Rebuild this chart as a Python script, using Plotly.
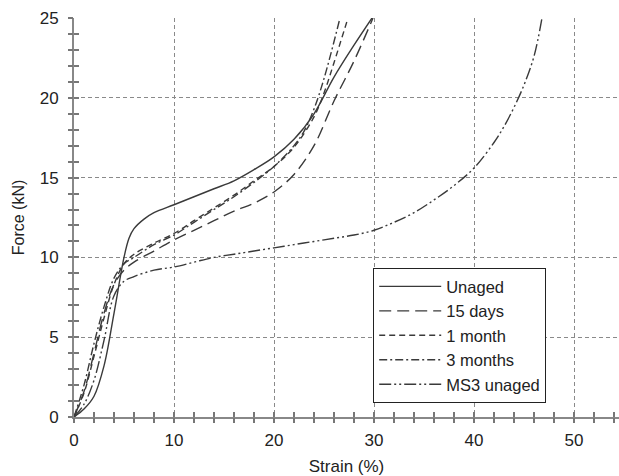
import plotly.graph_objects as go

names = ["Unaged", "15 days", "1 month", "3 months", "MS3 unaged"]

unaged_x = [0, 1, 2, 3, 4, 5, 5.5, 6, 7, 8, 10, 12, 14, 16, 18, 20, 22, 24, 26, 28, 29.8]
unaged_y = [0, 0.5, 1.3, 3.2, 6.5, 10.0, 11.2, 11.8, 12.4, 12.8, 13.3, 13.8, 14.3, 14.8, 15.5, 16.3, 17.4, 19.0, 21.3, 23.3, 25]

d15_x = [0, 1, 2, 3, 4, 5, 6, 8, 10, 12, 14, 16, 18, 20, 22, 24, 26, 28, 29.9]
d15_y = [0, 1.6, 4.0, 6.5, 8.3, 9.2, 9.7, 10.4, 11.1, 11.7, 12.3, 12.9, 13.4, 14.1, 15.2, 17.0, 19.8, 22.3, 25]

m1_x = [0, 1, 2, 3, 4, 5, 6, 8, 10, 12, 14, 16, 18, 20, 22, 24, 25, 26, 27.4]
m1_y = [0, 1.5, 3.8, 6.2, 8.3, 9.6, 10.2, 10.9, 11.5, 12.3, 13.1, 13.9, 14.8, 15.7, 16.9, 18.8, 20.3, 22.2, 25]

m3_x = [0, 1, 2, 3, 4, 5, 6, 8, 10, 12, 14, 16, 18, 20, 22, 23, 24, 25, 26.6]
m3_y = [0, 2.0, 4.6, 6.9, 8.7, 9.6, 10.0, 10.8, 11.4, 12.2, 13.0, 13.8, 14.7, 15.7, 17.0, 17.9, 19.3, 21.2, 25]

ms3_x = [0, 1, 2, 3, 4, 5, 6, 8, 10, 12, 14, 16, 18, 20, 22, 24, 26, 28, 30, 32, 34, 36, 38, 40, 42, 43, 44, 45, 46, 46.8]
ms3_y = [0, 0.8, 2.3, 4.8, 7.6, 8.5, 8.8, 9.2, 9.4, 9.7, 10.0, 10.2, 10.4, 10.6, 10.8, 11.0, 11.2, 11.4, 11.7, 12.2, 12.8, 13.6, 14.5, 15.6, 17.2, 18.2, 19.4, 20.8, 22.6, 25]

xs = [unaged_x, d15_x, m1_x, m3_x, ms3_x]
ys = [unaged_y, d15_y, m1_y, m3_y, ms3_y]
dashes = ["solid", "12px,6px", "6px,4px", "8px,3px,2px,3px", "12px,3px,2px,3px,2px,3px"]

fig = go.Figure()
for n, x, y, d in zip(names, xs, ys, dashes):
    fig.add_trace(go.Scatter(x=x, y=y, name=n, mode="lines", line_shape="spline",
                             line=dict(color="#3a3a3a", width=1.4, dash=d)))

# helper invisible trace for overlay axes (outer tick half)
fig.add_trace(go.Scatter(x=[0], y=[0], xaxis="x2", yaxis="y2", mode="markers",
                         marker=dict(opacity=0), showlegend=False, hoverinfo="skip"))

grid = dict(showgrid=True, gridcolor="#8a8a8a", griddash="4px,3px", gridwidth=1.3)
font = dict(family="Liberation Sans, Arial, sans-serif", size=17, color="#222")
tk = dict(tickcolor="#777", tickwidth=1.5, ticklen=5)

fig.update_layout(
    width=619, height=476,
    margin=dict(l=74, r=0, t=18, b=59),
    plot_bgcolor="white", paper_bgcolor="white",
    font=font,
    xaxis=dict(range=[0, 54.5], dtick=10, tick0=0, **grid, zeroline=False, automargin=False,
               showline=True, linecolor="#888", linewidth=2,
               ticks="inside", **tk, ticklabelstandoff=7,
               minor=dict(dtick=2, ticks="inside", showgrid=False, **tk),
               title=dict(text="Strain (%)", font=dict(size=17), standoff=14)),
    yaxis=dict(range=[0, 25], dtick=5, tick0=0, **grid, zeroline=False, automargin=False,
               showline=True, linecolor="#888", linewidth=2,
               ticks="inside", **tk, ticklabelstandoff=10,
               minor=dict(dtick=1, ticks="inside", showgrid=False, **tk),
               title=dict(text="Force (kN)", font=dict(size=16), standoff=11)),
    xaxis2=dict(overlaying="x", anchor="y2", range=[0, 54.5], dtick=10, tick0=0, showgrid=False,
                zeroline=False, showticklabels=False, ticks="outside", automargin=False, **tk,
                minor=dict(dtick=2, ticks="outside", **tk)),
    yaxis2=dict(overlaying="y", anchor="x2", range=[0, 25], dtick=5, tick0=0, showgrid=False,
                zeroline=False, showticklabels=False, ticks="outside", automargin=False, **tk,
                minor=dict(dtick=1, ticks="outside", **tk)),
    legend=dict(x=0.549, y=0.373, xanchor="left", yanchor="top",
                bgcolor="white", bordercolor="#222", borderwidth=1,
                font=dict(size=16.5, color="#222"), itemwidth=62, tracegroupgap=0),
    showlegend=True,
)

fig.write_html("out.html", config={"displayModeBar": False},
               post_script="document.body.style.margin='0';document.body.style.overflow='hidden';")
